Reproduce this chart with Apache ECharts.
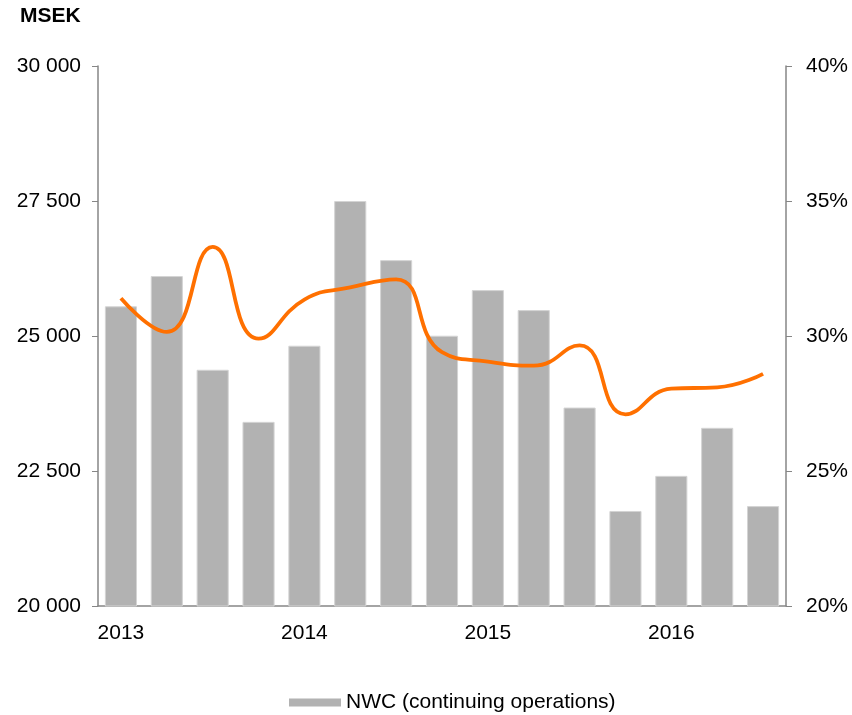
<!DOCTYPE html>
<html>
<head>
<meta charset="utf-8">
<script src="https://cdn.jsdelivr.net/npm/echarts@6/dist/echarts.min.js"></script>
<style>
  html, body { margin: 0; padding: 0; background: #fff; }
  #nwc-chart { width: 852px; height: 715px; }
</style>
</head>
<body>
<div id="nwc-chart"></div>
<script>
// quarters 2013 Q1 .. 2016 Q3
const categories = ['2013', '', '', '', '2014', '', '', '', '2015', '', '', '', '2016', '', '']
const nwcValues = [25550, 26110, 24375, 23410, 24820, 27500, 26405, 25005, 25850, 25480, 23675, 21760, 22410, 23300, 21850]
const nwcShare = [31.4, 30.15, 33.3, 29.9, 31.35, 31.8, 32.1, 29.4, 29.05, 28.9, 29.65, 27.1, 28.05, 28.1, 28.6]

const fontFamily = '"Liberation Sans", Arial, sans-serif'
const axisGrey = '#868686'

const myChart = echarts.init(document.getElementById('nwc-chart'))
const option = {
  animation: false,
  textStyle: { fontFamily: fontFamily },
  title: {
    text: 'MSEK',
    left: 15,
    top: 1,
    textStyle: { fontSize: 21, fontWeight: 'bold', color: '#000', fontFamily: fontFamily }
  },
  legend: {
    data: ['NWC (continuing operations)'],
    left: 289,
    top: 692,
    itemWidth: 52,
    itemHeight: 8,
    itemGap: 5,
    icon: 'rect',
    padding: 0,
    itemStyle: { borderWidth: 0 },
    textStyle: { fontSize: 21, color: '#000', fontFamily: fontFamily }
  },
  grid: {
    left: 98,
    right: 66,
    top: 66,
    bottom: 109
  },
  xAxis: {
    type: 'category',
    data: categories,
    boundaryGap: true,
    axisLine: { lineStyle: { color: axisGrey, width: 1.5 } },
    axisTick: { interval: 0, length: 6, lineStyle: { color: axisGrey } },
    axisLabel: { interval: 0, fontSize: 21, color: '#000', margin: 17 }
  },
  yAxis: [
    {
      type: 'value',
      min: 20000,
      max: 30000,
      interval: 2500,
      splitLine: { show: false },
      axisLine: { show: true, lineStyle: { color: axisGrey, width: 1.5 } },
      axisTick: { show: true, length: 6, lineStyle: { color: axisGrey } },
      axisLabel: {
        fontSize: 21,
        color: '#000',
        margin: 17,
        formatter: v => String(v).replace(/\B(?=(\d{3})+(?!\d))/g, ' ')
      }
    },
    {
      type: 'value',
      min: 20,
      max: 40,
      interval: 5,
      splitLine: { show: false },
      axisLine: { show: true, lineStyle: { color: axisGrey, width: 1.5 } },
      axisTick: { show: true, length: 6, lineStyle: { color: axisGrey } },
      axisLabel: { fontSize: 21, color: '#000', margin: 20, formatter: '{value}%' }
    }
  ],
  series: [
    {
      name: 'NWC (continuing operations)',
      type: 'bar',
      data: nwcValues,
      barCategoryGap: '30%',
      itemStyle: { color: '#b2b2b2', borderColor: '#d4d4d4', borderWidth: 1 }
    },
    {
      name: 'NWC share',
      type: 'line',
      yAxisIndex: 1,
      data: nwcShare,
      smooth: 0.5,
      showSymbol: false,
      lineStyle: { color: '#ff7000', width: 3.8 },
      itemStyle: { color: '#ff7000' },
      z: 3
    }
  ]
}
option && myChart.setOption(option)
window.addEventListener('resize', function () {
  myChart.resize()
})
</script>
</body>
</html>
